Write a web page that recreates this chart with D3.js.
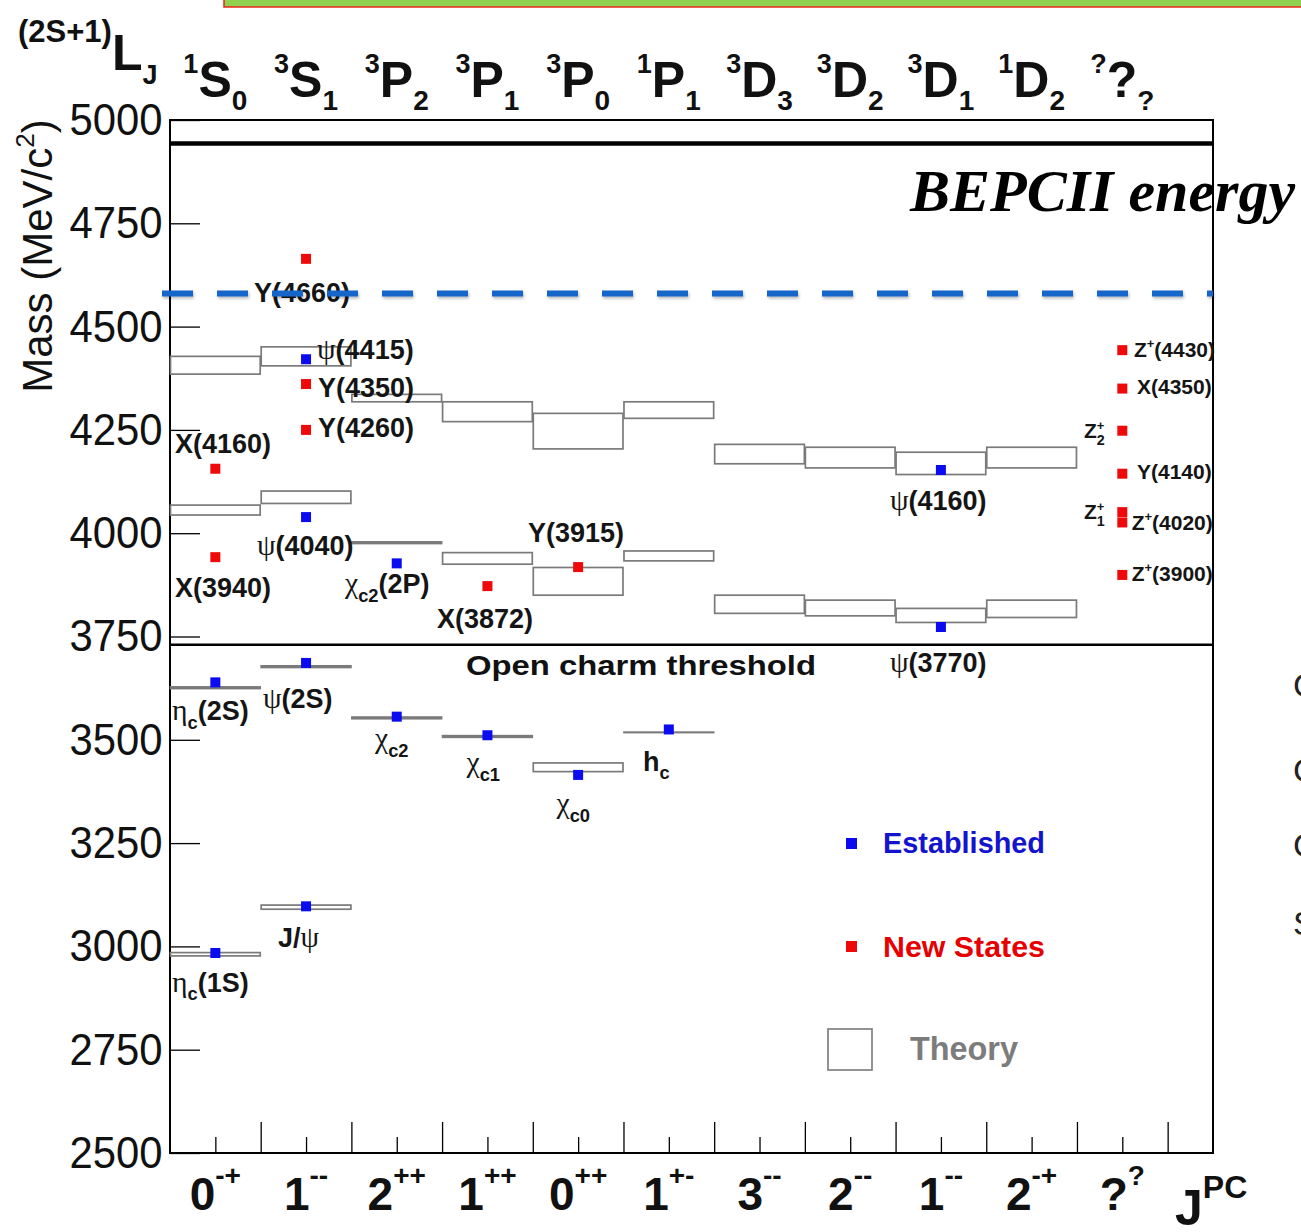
<!DOCTYPE html>
<html>
<head>
<meta charset="utf-8">
<script src="https://cdn.jsdelivr.net/npm/d3@7"></script>
<style>
  body { margin: 0; background: #fff; }
  svg { display: block; }
</style>
</head>
<body>
<svg id="chart" width="1301" height="1232"></svg>
<script>
// ---- data -------------------------------------------------------------
// spectroscopic notation (2S+1)L_J for each column: [superscript, letter, subscript]
const termSymbols = [["1","S","0"],["3","S","1"],["3","P","2"],["3","P","1"],["3","P","0"],
                     ["1","P","1"],["3","D","3"],["3","D","2"],["3","D","1"],["1","D","2"],["?","?","?"]];
// J^PC quantum numbers for each column: [J, PC]
const jpcLabels = [["0","-+"],["1","--"],["2","++"],["1","++"],["0","++"],["1","+-"],
                   ["3","--"],["2","--"],["1","--"],["2","-+"],["?","?"]];
const massTicks = [2500, 2750, 3000, 3250, 3500, 3750, 4000, 4250, 4500, 4750, 5000];

// potential-model predictions: [column, low mass, high mass] (MeV/c^2)
const theoryBands = [
  [0, 4385, 4428], [0, 4044, 4068], [0, 3624, 3628], [0, 2977, 2985],
  [1, 4405, 4451], [1, 4072, 4102], [1, 3675, 3679], [1, 3090, 3100],
  [2, 4318, 4336], [2, 3975, 3979], [2, 3551, 3555],
  [3, 4270, 4318], [3, 3925, 3953], [3, 3506, 3510],
  [4, 4204, 4290], [4, 3850, 3917], [4, 3423, 3444],
  [5, 4278, 4318], [5, 3933, 3957], [5, 3517.5, 3518.5],
  [6, 4168, 4215], [6, 3806, 3850],
  [7, 4158, 4208], [7, 3800, 3838],
  [8, 4142, 4196], [8, 3784, 3818],
  [9, 4158, 4208], [9, 3796, 3838]
];

// established charmonium states: [column, mass]
const establishedStates = [
  [0, 2984], [1, 3097], [0, 3639], [1, 3686], [2, 3556], [3, 3511], [4, 3415],
  [5, 3525], [8, 3773], [8, 4153], [1, 4039], [1, 4421], [2, 3927]
];

// newly observed (XYZ) states: [column, mass]
const newStates = [
  [1, 4664], [1, 4361], [1, 4250], [0, 4156], [0, 3942], [3, 3872], [4, 3918],
  [10, 4443], [10, 4350], [10, 4248], [10, 4144], [10, 4051], [10, 4026], [10, 3899]
];

// state names: [text, x in column units, mass at baseline]
const stateLabels = [
  ["Y(4660)", 0.926, 4560], ["ψ(4415)", 1.621, 4422], ["Y(4350)", 1.632, 4330],
  ["Y(4260)", 1.632, 4233], ["X(4160)", 0.055, 4194], ["X(3940)", 0.055, 3846],
  ["ψ(4040)", 0.959, 3947], ["χ_c2(2P)", 1.929, 3855], ["X(3872)", 2.944, 3771],
  ["Y(3915)", 3.947, 3979], ["ψ(4160)", 7.938, 4056], ["ψ(3770)", 7.938, 3664],
  ["η_c(2S)", 0.022, 3548], ["ψ(2S)", 1.025, 3577], ["χ_c2", 2.26, 3480],
  ["χ_c1", 3.269, 3422], ["χ_c0", 4.261, 3323], ["h_c", 5.215, 3425],
  ["J/ψ", 1.191, 2999], ["η_c(1S)", 0.022, 2890]
];
// names in the exotic column
const exoticLabels = [
  ["Z^+(4430)", 10.628, 4427], ["X(4350)", 10.662, 4337], ["Y(4140)", 10.662, 4130],
  ["Z^+(4020)", 10.603, 4008], ["Z^+(3900)", 10.603, 3885],
  ["Z^+_2", 10.077, 4230], ["Z^+_1", 10.077, 4034]
];

const bepcLimit = 4943;     // black line near the top
const bepcReach = 4580;     // blue dashed line
const openCharm = 3730;     // D Dbar threshold

// ---- setup ------------------------------------------------------------
const SANS = "'Liberation Sans', Arial, Helvetica, sans-serif";
const SERIF = "'Liberation Serif', 'Times New Roman', serif";
const svg = d3.select("#chart");
const x = d3.scaleLinear().domain([0, 11.5]).range([170, 1213]);
const y = d3.scaleLinear().domain([2500, 5000]).range([1153, 120]);

const defs = svg.append("defs");
const shadow = defs.append("filter").attr("id", "soft").attr("filterUnits", "userSpaceOnUse")
  .attr("x", 0).attr("y", 0).attr("width", 1301).attr("height", 1232);
shadow.append("feDropShadow").attr("dx", 1).attr("dy", 2).attr("stdDeviation", 1.6)
  .attr("flood-color", "#000").attr("flood-opacity", 0.28);

svg.append("rect").attr("width", 1301).attr("height", 1232).attr("fill", "#fff");

// banner strip at the top edge
svg.append("rect").attr("x", 224).attr("y", -3).attr("width", 1090).attr("height", 10)
  .attr("fill", "#92d050").attr("stroke", "#e8261c").attr("stroke-width", 1.5);

// ---- axes -------------------------------------------------------------
const yAxis = d3.axisLeft(y).tickValues(massTicks).tickSizeInner(-30).tickSizeOuter(0)
  .tickPadding(8).tickFormat(d3.format("d"));
const gy = svg.append("g").attr("transform", `translate(${x(0)},0)`).call(yAxis);
gy.select(".domain").remove();
gy.selectAll(".tick line").attr("stroke", "#000").attr("stroke-width", 1.3);
gy.selectAll(".tick text").attr("font-family", SANS).attr("font-size", 45)
  .attr("fill", "#111").attr("transform", "scale(0.93,1)");

const boundaries = d3.range(1, termSymbols.length + 1);
const centres = termSymbols.map((d, i) => i + 0.5);
const xMajor = d3.axisBottom(x).tickValues(boundaries).tickSizeInner(-31).tickSizeOuter(0).tickFormat("");
const xMinor = d3.axisBottom(x).tickValues(centres).tickSizeInner(-16).tickSizeOuter(0).tickFormat("");
[xMajor, xMinor].forEach(ax => {
  const g = svg.append("g").attr("transform", `translate(0,${y(2500)})`).call(ax);
  g.select(".domain").remove();
  g.selectAll(".tick line").attr("stroke", "#000").attr("stroke-width", 1.3);
});

// frame
svg.append("rect").attr("x", x(0)).attr("y", y(5000))
  .attr("width", x(11.5) - x(0)).attr("height", y(2500) - y(5000))
  .attr("fill", "none").attr("stroke", "#000").attr("stroke-width", 2);

// axis title
const yt = svg.append("text").attr("transform", "translate(52,256) rotate(-90)")
  .attr("text-anchor", "middle").attr("font-family", SANS).attr("font-size", 42).attr("fill", "#111");
yt.append("tspan").text("Mass (MeV/c");
yt.append("tspan").attr("font-size", 26).attr("dy", -18).text("2");
yt.append("tspan").attr("dy", 18).text(")");

// column headers: term symbols
const hdr = svg.append("text").attr("x", 18).attr("y", 42).attr("font-family", SANS)
  .attr("font-weight", "bold").attr("fill", "#111");
hdr.append("tspan").attr("font-size", 31).text("(2S+1)");
hdr.append("tspan").attr("font-size", 50).attr("dy", 28).text("L");
hdr.append("tspan").attr("font-size", 27).attr("dy", 14).text("J");

termSymbols.forEach((t, i) => {
  const tx = svg.append("text").attr("x", x(i + 0.5)).attr("y", 97).attr("text-anchor", "middle")
    .attr("font-family", SANS).attr("font-weight", "bold").attr("fill", "#111");
  tx.append("tspan").attr("font-size", 27).attr("dy", -24).text(t[0]);
  tx.append("tspan").attr("font-size", 50).attr("dy", 24).text(t[1]);
  tx.append("tspan").attr("font-size", 28).attr("dy", 13).text(t[2]);
});

// column footers: J^PC
jpcLabels.forEach((j, i) => {
  const tx = svg.append("text").attr("x", x(i + 0.5)).attr("y", 1210).attr("text-anchor", "middle")
    .attr("font-family", SANS).attr("font-weight", "bold").attr("fill", "#111");
  tx.append("tspan").attr("font-size", 46).text(j[0]);
  tx.append("tspan").attr("font-size", 28).attr("dy", -25).text(j[1]);
});
const jpc = svg.append("text").attr("x", 1175).attr("y", 1225).attr("font-family", SANS)
  .attr("font-weight", "bold").attr("fill", "#111");
jpc.append("tspan").attr("font-size", 50).text("J");
jpc.append("tspan").attr("font-size", 32).attr("dy", -27).text("PC");

// ---- theory bands -----------------------------------------------------
svg.append("g").selectAll("rect").data(theoryBands).join("rect")
  .attr("x", d => x(d[0]) + 0.5)
  .attr("width", d => x(d[0] + 1) - x(d[0]) - 1)
  .attr("y", d => y(d[2]))
  .attr("height", d => y(d[1]) - y(d[2]))
  .attr("fill", "none").attr("stroke", "#7a7a7a").attr("stroke-width", 1.7);

// reference lines
svg.append("line").attr("x1", x(0)).attr("x2", x(11.5)).attr("y1", y(openCharm)).attr("y2", y(openCharm))
  .attr("stroke", "#000").attr("stroke-width", 2.4);
svg.append("text").attr("x", 466).attr("y", y(openCharm) + 30).attr("font-family", SANS)
  .attr("font-weight", "bold").attr("font-size", 27).attr("fill", "#111")
  .attr("textLength", 350).attr("lengthAdjust", "spacingAndGlyphs").text("Open charm threshold");
svg.append("line").attr("x1", x(0)).attr("x2", x(11.5)).attr("y1", y(bepcLimit)).attr("y2", y(bepcLimit))
  .attr("stroke", "#000").attr("stroke-width", 4.5);

// ---- states -----------------------------------------------------------
const SQ = 10;
function squares(data, colour) {
  svg.append("g").selectAll("rect").data(data).join("rect")
    .attr("x", d => x(d[0] + 0.5) - SQ / 2).attr("y", d => y(d[1]) - SQ / 2)
    .attr("width", SQ).attr("height", SQ).attr("fill", colour);
}
squares(establishedStates, "#0b0bf0");
squares(newStates, "#ee0a0a");

// simple markup: greek letters in serif, _xx subscript, ^x superscript
function writeLabel(txt, px, py, size) {
  const t = svg.append("text").attr("x", px).attr("y", py).attr("font-family", SANS)
    .attr("font-weight", "bold").attr("font-size", size).attr("fill", "#151515");
  let shift = 0, supLen = null, i = 0, plain = "";
  const flush = () => {
    if (!plain) return;
    t.append("tspan").attr("dy", -shift).text(plain);
    shift = 0; plain = "";
  };
  while (i < txt.length) {
    const ch = txt[i];
    if ("ψηχ".includes(ch)) {
      flush();
      t.append("tspan").attr("dy", -shift).attr("font-family", SERIF).attr("font-weight", "normal")
        .attr("font-size", size * 1.1).text(ch);
      shift = 0; i++;
    } else if (ch === "_") {
      flush();
      let j = i + 1, s = "";
      while (j < txt.length && /[a-z0-9]/.test(txt[j])) { s += txt[j]; j++; }
      const d = size * 0.32;
      const ts = t.append("tspan").attr("font-size", size * 0.68).attr("dy", d - shift).text(s);
      if (supLen !== null) ts.attr("dx", -supLen);
      supLen = null; shift = d; i = j;
    } else if (ch === "^") {
      flush();
      const d = -size * 0.4;
      const ts = t.append("tspan").attr("font-size", size * 0.62).attr("dy", d - shift).text(txt[i + 1]);
      supLen = ts.node().getComputedTextLength();
      shift = d; i += 2;
    } else {
      plain += ch; i++;
    }
  }
  flush();
}
stateLabels.forEach(l => writeLabel(l[0], x(l[1]), y(l[2]), 27));
exoticLabels.forEach(l => writeLabel(l[0], x(l[1]), y(l[2]), 21));

// BEPCII reach (drawn over the labels)
svg.append("line").attr("x1", 162).attr("x2", x(11.5)).attr("y1", y(bepcReach)).attr("y2", y(bepcReach))
  .attr("stroke", "#1565c8").attr("stroke-width", 6).attr("stroke-dasharray", "31,24")
  .attr("filter", "url(#soft)");
svg.append("text").attr("x", 910).attr("y", 211).attr("font-family", SERIF)
  .attr("font-style", "italic").attr("font-weight", "bold").attr("font-size", 60)
  .attr("fill", "#000").text("BEPCII energy");

// ---- legend -----------------------------------------------------------
svg.append("rect").attr("x", 846).attr("y", 838).attr("width", 11).attr("height", 11).attr("fill", "#0b0bf0");
svg.append("text").attr("x", 883).attr("y", 853).attr("font-family", SANS).attr("font-weight", "bold")
  .attr("font-size", 30).attr("fill", "#1414cc").attr("textLength", 162)
  .attr("lengthAdjust", "spacingAndGlyphs").text("Established");
svg.append("rect").attr("x", 846).attr("y", 941).attr("width", 11).attr("height", 11).attr("fill", "#ee0a0a");
svg.append("text").attr("x", 883).attr("y", 957).attr("font-family", SANS).attr("font-weight", "bold")
  .attr("font-size", 30).attr("fill", "#e60000").attr("textLength", 162)
  .attr("lengthAdjust", "spacingAndGlyphs").text("New States");
svg.append("rect").attr("x", 828).attr("y", 1029).attr("width", 44).attr("height", 41)
  .attr("fill", "none").attr("stroke", "#808080").attr("stroke-width", 1.7);
svg.append("text").attr("x", 910).attr("y", 1060).attr("font-family", SANS).attr("font-weight", "bold")
  .attr("font-size", 33).attr("fill", "#7c7c7c").attr("textLength", 108)
  .attr("lengthAdjust", "spacingAndGlyphs").text("Theory");

// text continuing past the right edge of the page
[["C", 697], ["C", 782], ["C", 857], ["S", 935]].forEach(f => {
  svg.append("text").attr("x", 1293).attr("y", f[1]).attr("font-family", SANS)
    .attr("font-size", 34).attr("fill", "#222").text(f[0]);
});
</script>
</body>
</html>
